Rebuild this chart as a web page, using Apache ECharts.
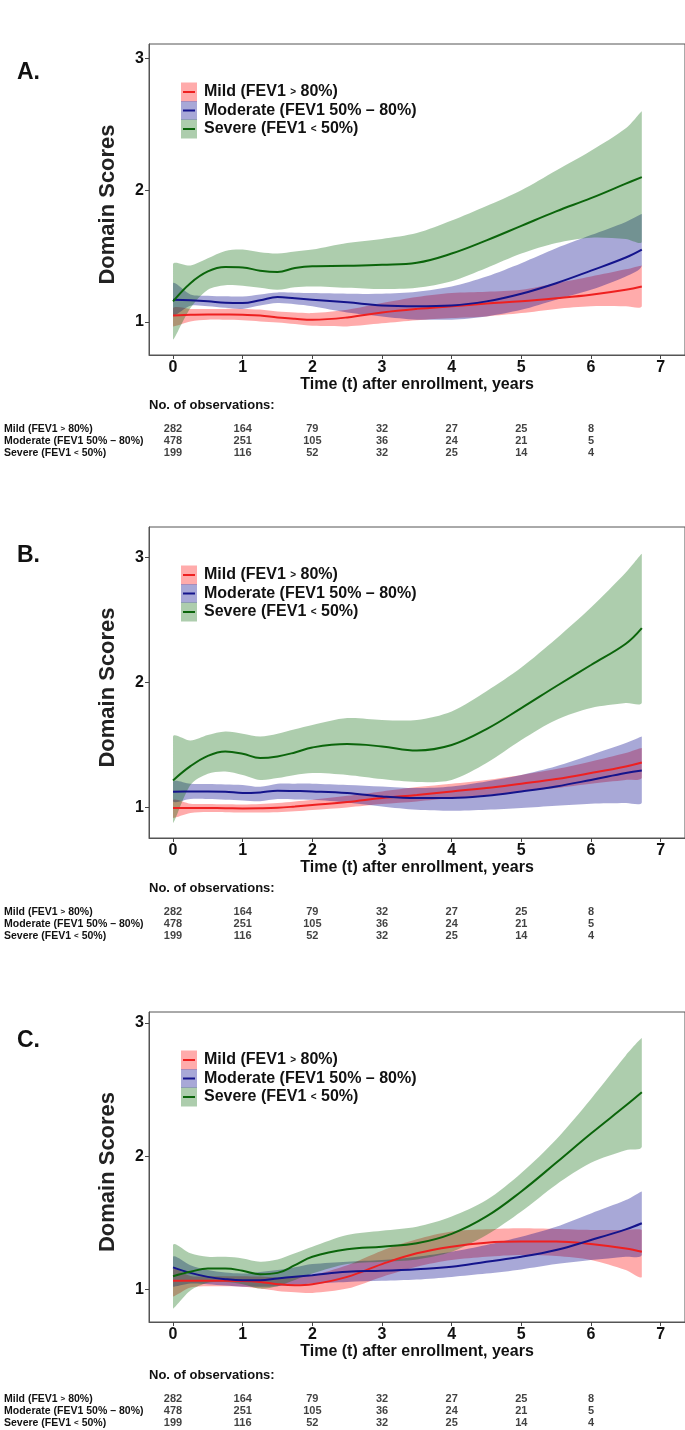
<!DOCTYPE html>
<html>
<head>
<meta charset="utf-8">
<script src="https://cdn.jsdelivr.net/npm/echarts@6/dist/echarts.min.js"></script>
<style>
  html, body { margin: 0; padding: 0; background: #fff; }
  #chart { width: 685px; height: 1430px; }
</style>
</head>
<body>
<div id="chart"></div>
<script>
// time after enrollment (years) where the curves were read
const years = [0, 0.25, 0.5, 0.75, 1, 1.25, 1.5, 1.75, 2, 2.5, 3, 3.5, 4, 4.5, 5, 5.5, 6, 6.5, 6.73];
const xTicks = [0, 1, 2, 3, 4, 5, 6, 7];
const yTicks = [1, 2, 3];
const groups = ['Mild (FEV1 > 80%)', 'Moderate (FEV1 50% – 80%)', 'Severe (FEV1 < 50%)'];

// No. of observations table
const obsYears = [0, 1, 2, 3, 4, 5, 6];
const obsMild = [282, 164, 79, 32, 27, 25, 8];
const obsModerate = [478, 251, 105, 36, 24, 21, 5];
const obsSevere = [199, 116, 52, 32, 25, 14, 4];

// panel A
const mildA = [1.05, 1.055, 1.058, 1.057, 1.055, 1.05, 1.035, 1.025, 1.018, 1.035, 1.073, 1.10, 1.12, 1.14, 1.157, 1.18, 1.207, 1.245, 1.27];
const mildLoA = [0.967, 1.005, 1.018, 1.017, 1.013, 1.005, 0.997, 0.985, 0.972, 0.967, 0.99, 1.013, 1.03, 1.043, 1.068, 1.10, 1.12, 1.12, 1.12];
const mildHiA = [1.106, 1.10, 1.10, 1.10, 1.10, 1.095, 1.08, 1.072, 1.068, 1.093, 1.144, 1.19, 1.22, 1.23, 1.245, 1.295, 1.346, 1.40, 1.43];
const modA = [1.17, 1.165, 1.157, 1.146, 1.144, 1.165, 1.19, 1.18, 1.17, 1.15, 1.126, 1.12, 1.126, 1.157, 1.215, 1.295, 1.39, 1.49, 1.55];
const modLoA = [1.055, 1.124, 1.12, 1.108, 1.10, 1.125, 1.144, 1.135, 1.12, 1.073, 1.043, 1.018, 1.018, 1.043, 1.093, 1.17, 1.245, 1.346, 1.427];
const modHiA = [1.295, 1.21, 1.20, 1.195, 1.194, 1.21, 1.225, 1.222, 1.22, 1.215, 1.215, 1.23, 1.27, 1.346, 1.447, 1.56, 1.66, 1.76, 1.82];
const sevA = [1.157, 1.295, 1.384, 1.417, 1.414, 1.39, 1.38, 1.41, 1.424, 1.427, 1.434, 1.45, 1.52, 1.62, 1.73, 1.84, 1.94, 2.05, 2.10];
const sevLoA = [0.866, 1.106, 1.245, 1.28, 1.275, 1.26, 1.245, 1.265, 1.27, 1.26, 1.25, 1.26, 1.31, 1.41, 1.52, 1.60, 1.64, 1.63, 1.61];
const sevHiA = [1.44, 1.43, 1.485, 1.54, 1.55, 1.53, 1.52, 1.535, 1.55, 1.60, 1.63, 1.675, 1.77, 1.88, 2.0, 2.15, 2.30, 2.47, 2.60];

// panel B
const mildB = [0.995, 0.995, 0.995, 0.994, 0.992, 0.993, 0.997, 1.007, 1.019, 1.043, 1.075, 1.10, 1.128, 1.155, 1.19, 1.227, 1.275, 1.328, 1.36];
const mildLoB = [0.915, 0.955, 0.963, 0.962, 0.96, 0.96, 0.962, 0.97, 0.98, 1.0, 1.027, 1.048, 1.075, 1.10, 1.128, 1.155, 1.19, 1.22, 1.235];
const mildHiB = [1.06, 1.03, 1.027, 1.025, 1.024, 1.028, 1.035, 1.047, 1.061, 1.093, 1.128, 1.163, 1.19, 1.22, 1.26, 1.307, 1.368, 1.435, 1.475];
const modB = [1.125, 1.127, 1.128, 1.126, 1.115, 1.12, 1.133, 1.131, 1.128, 1.115, 1.088, 1.075, 1.075, 1.093, 1.128, 1.168, 1.22, 1.275, 1.296];
const modLoB = [1.048, 1.067, 1.067, 1.062, 1.056, 1.05, 1.067, 1.064, 1.061, 1.04, 1.008, 0.981, 0.973, 0.981, 0.995, 1.013, 1.03, 1.035, 1.04];
const modHiB = [1.208, 1.19, 1.187, 1.184, 1.18, 1.165, 1.19, 1.19, 1.19, 1.18, 1.168, 1.155, 1.168, 1.208, 1.26, 1.33, 1.42, 1.515, 1.568];
const sevB = [1.216, 1.33, 1.413, 1.448, 1.43, 1.395, 1.408, 1.44, 1.48, 1.507, 1.488, 1.456, 1.50, 1.627, 1.795, 1.97, 2.14, 2.31, 2.435];
const sevLoB = [0.875, 1.18, 1.27, 1.288, 1.26, 1.22, 1.235, 1.26, 1.275, 1.26, 1.227, 1.203, 1.22, 1.355, 1.54, 1.70, 1.795, 1.835, 1.84];
const sevHiB = [1.568, 1.536, 1.58, 1.608, 1.59, 1.568, 1.59, 1.625, 1.66, 1.715, 1.70, 1.70, 1.768, 1.93, 2.12, 2.35, 2.60, 2.88, 3.03];

// panel C
const mildC = [1.063, 1.063, 1.063, 1.063, 1.062, 1.055, 1.038, 1.03, 1.038, 1.093, 1.189, 1.27, 1.32, 1.35, 1.358, 1.358, 1.34, 1.307, 1.282];
const mildLoC = [0.945, 1.013, 1.023, 1.022, 1.018, 1.005, 0.987, 0.977, 0.972, 1.005, 1.093, 1.169, 1.219, 1.244, 1.257, 1.249, 1.219, 1.144, 1.093];
const mildHiC = [1.15, 1.10, 1.098, 1.098, 1.098, 1.095, 1.088, 1.092, 1.106, 1.181, 1.29, 1.375, 1.433, 1.45, 1.458, 1.453, 1.446, 1.446, 1.446];
const modC = [1.164, 1.123, 1.093, 1.076, 1.068, 1.068, 1.081, 1.094, 1.106, 1.131, 1.139, 1.151, 1.169, 1.207, 1.244, 1.295, 1.37, 1.45, 1.496];
const modLoC = [1.018, 1.043, 1.038, 1.028, 1.018, 1.018, 1.023, 1.033, 1.043, 1.055, 1.063, 1.073, 1.093, 1.118, 1.149, 1.189, 1.219, 1.244, 1.257];
const modHiC = [1.244, 1.18, 1.144, 1.125, 1.118, 1.13, 1.144, 1.165, 1.189, 1.207, 1.219, 1.244, 1.282, 1.333, 1.395, 1.47, 1.57, 1.67, 1.735];
const sevC = [1.098, 1.131, 1.156, 1.156, 1.139, 1.113, 1.123, 1.181, 1.244, 1.30, 1.32, 1.345, 1.416, 1.547, 1.735, 1.95, 2.17, 2.38, 2.48];
const sevLoC = [0.854, 0.99, 1.048, 1.055, 1.038, 1.005, 1.023, 1.07, 1.118, 1.189, 1.207, 1.224, 1.282, 1.408, 1.584, 1.786, 1.95, 2.045, 2.07];
const sevHiC = [1.333, 1.27, 1.244, 1.244, 1.232, 1.207, 1.224, 1.27, 1.32, 1.408, 1.44, 1.47, 1.547, 1.67, 1.874, 2.126, 2.43, 2.756, 2.887];

const FONT = "'Liberation Sans', Arial, sans-serif";
const lineColors = ['#EE2020', '#14148C', '#0B650B'];
const bandColors = ['rgba(255,0,0,0.33)', 'rgba(0,0,139,0.34)', 'rgba(0,100,0,0.32)'];
const richSmall = { s: { fontSize: 10, fontWeight: 'bold', fontFamily: FONT } };
const richLabel = t => t.replace(/ ([<>]) /, ' {s|$1} ');

const panels = [
  { label: 'A.', top: 44, height: 311, yMin: 0.75, yMax: 3.11, headerY: 407, tableTop: 423,
    curves: [[mildA, mildLoA, mildHiA], [modA, modLoA, modHiA], [sevA, sevLoA, sevHiA]] },
  { label: 'B.', top: 527, height: 311, yMin: 0.755, yMax: 3.245, headerY: 890, tableTop: 906,
    curves: [[mildB, mildLoB, mildHiB], [modB, modLoB, modHiB], [sevB, sevLoB, sevHiB]] },
  { label: 'C.', top: 1012, height: 310, yMin: 0.754, yMax: 3.083, headerY: 1377, tableTop: 1393,
    curves: [[mildC, mildLoC, mildHiC], [modC, modLoC, modHiC], [sevC, sevLoC, sevHiC]] }
];

const grid = [], xAxis = [], yAxis = [], series = [], graphic = [];
const obsRows = [obsMild, obsModerate, obsSevere];

// ribbon between lo and hi, drawn once as a smoothed polygon
function bandRenderer(lo, hi, color) {
  return function (params, api) {
    if (params.dataIndex !== 0) return;
    const upper = years.map((x, i) => api.coord([x, hi[i]]));
    const lower = years.map((x, i) => api.coord([x, lo[i]])).reverse();
    const pts = upper.concat(lower);
    const xs = pts.map(p => p[0]), ys = pts.map(p => p[1]);
    return {
      type: 'polygon',
      shape: {
        points: pts, smooth: 0.3,
        smoothConstraint: [[Math.min(...xs), Math.min(...ys)], [Math.max(...xs), Math.max(...ys)]]
      },
      style: { fill: color }
    };
  };
}

panels.forEach((p, pi) => {
  const gi = pi * 2; // plot grid
  const ti = pi * 2 + 1; // table grid
  grid.push({ left: 149, top: p.top, width: 537, height: p.height, show: true, borderColor: '#555', borderWidth: 1 });
  grid.push({ left: 149, top: p.tableTop, width: 537, height: 36 });

  xAxis.push({
    gridIndex: gi, type: 'value', min: -0.345, max: 7.35,
    axisLine: { show: true, lineStyle: { color: '#555' } },
    axisTick: { show: true, customValues: xTicks, length: 4, lineStyle: { color: '#444' } },
    axisLabel: { customValues: xTicks, margin: 5, fontSize: 16, fontWeight: 'bold', color: '#111', fontFamily: FONT },
    splitLine: { show: false },
    name: 'Time (t) after enrollment, years', nameLocation: 'middle', nameGap: 20,
    nameTextStyle: { fontSize: 16, fontWeight: 'bold', color: '#111', fontFamily: FONT }
  });
  yAxis.push({
    gridIndex: gi, type: 'value', min: p.yMin, max: p.yMax,
    axisLine: { show: true, onZero: false, lineStyle: { color: '#555' } },
    axisTick: { show: true, customValues: yTicks, length: 4, lineStyle: { color: '#444' } },
    axisLabel: { customValues: yTicks, margin: 5, fontSize: 16, fontWeight: 'bold', color: '#111', fontFamily: FONT },
    splitLine: { show: false },
    name: 'Domain Scores', nameLocation: 'middle', nameGap: 30, nameRotate: 90,
    nameTextStyle: { fontSize: 22, fontWeight: 'bold', color: '#222', fontFamily: FONT, padding: [0, 10, 0, 0] }
  });

  xAxis.push({ gridIndex: ti, type: 'value', min: -0.345, max: 7.35, show: false });
  yAxis.push({
    gridIndex: ti, type: 'category', data: groups, inverse: true,
    axisLine: { show: false }, axisTick: { show: false }, splitLine: { show: false },
    axisLabel: {
      interval: 0, align: 'left', margin: 145, fontSize: 10.5, fontWeight: 'bold', color: '#111', fontFamily: FONT,
      formatter: v => richLabel(v), rich: { s: { fontSize: 8, fontWeight: 'bold', fontFamily: FONT } }
    }
  });

  // confidence bands
  p.curves.forEach((c, k) => {
    const [mid, lo, hi] = c;
    series.push({
      type: 'custom', xAxisIndex: gi, yAxisIndex: gi, silent: true, z: 1, clip: true,
      renderItem: bandRenderer(lo, hi, bandColors[k]),
      encode: { x: 0, y: [1, 2] },
      data: years.map((x, i) => [x, lo[i], hi[i]])
    });
  });
  // fitted curves
  p.curves.forEach((c, k) => {
    series.push({
      type: 'line', xAxisIndex: gi, yAxisIndex: gi, smooth: 0.4, symbol: 'none', silent: true,
      lineStyle: { color: lineColors[k], width: 2 }, z: 3,
      data: years.map((x, i) => [x, c[0][i]])
    });
  });

  // number of observations
  series.push({
    type: 'scatter', xAxisIndex: ti, yAxisIndex: ti, symbolSize: 1, silent: true,
    itemStyle: { color: 'rgba(0,0,0,0)' },
    label: { show: true, position: 'inside', formatter: d => d.value[2], fontSize: 11, fontWeight: 'bold', color: '#111', fontFamily: FONT },
    data: obsRows.flatMap((row, r) => obsYears.map((t, i) => [t, r, row[i]]))
  });

  // panel letter, legend, table header
  graphic.push({ type: 'text', left: 17, top: p.top + 17, style: { text: p.label, font: 'bold 23px ' + FONT, fill: '#111' } });
  graphic.push({ type: 'text', left: 149, top: p.headerY - 8, style: { text: 'No. of observations:', font: 'bold 13px ' + FONT, fill: '#111' } });
  groups.forEach((g, k) => {
    const cy = p.top + 48 + k * 18.5;
    graphic.push({ type: 'rect', shape: { x: 181, y: cy - 9.5, width: 16, height: 19 }, style: { fill: bandColors[k] } });
    graphic.push({ type: 'line', shape: { x1: 183, y1: cy, x2: 195, y2: cy }, style: { stroke: lineColors[k], lineWidth: 2 } });
    graphic.push({ type: 'text', x: 204, y: cy, style: {
      text: richLabel(g), font: 'bold 16px ' + FONT, fill: '#111', verticalAlign: 'middle',
      rich: richSmall
    } });
  });
});

const chart = echarts.init(document.getElementById('chart'));
chart.setOption({ animation: false, backgroundColor: '#fff', grid, xAxis, yAxis, series, graphic });
</script>
</body>
</html>
